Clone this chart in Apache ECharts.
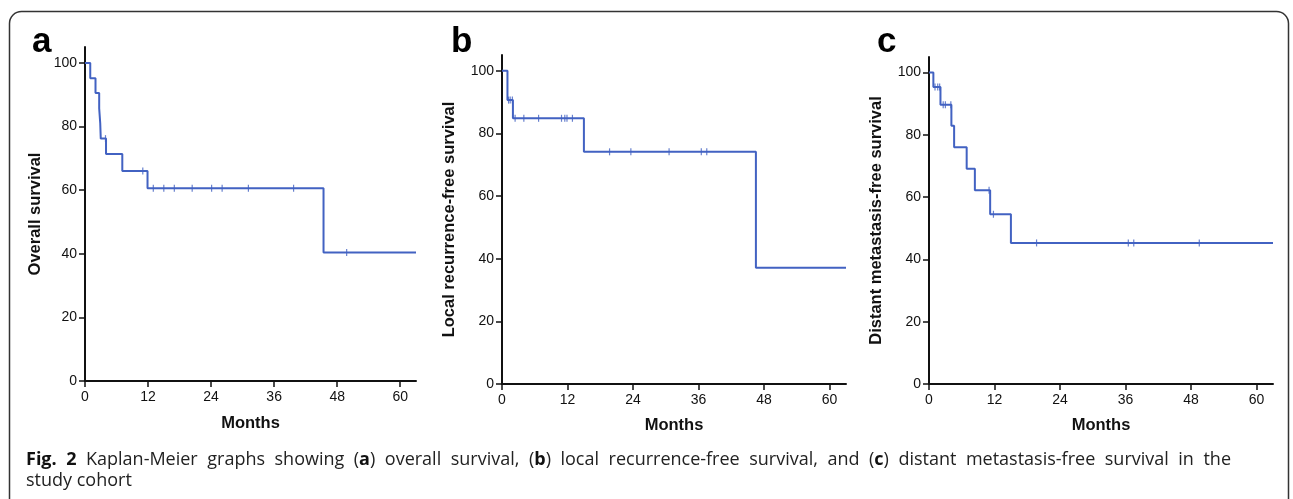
<!DOCTYPE html>
<html>
<head>
<meta charset="utf-8">
<script src="https://cdn.jsdelivr.net/npm/echarts@6/dist/echarts.min.js"></script>
<style>
  html, body { margin: 0; padding: 0; background: #fff; }
  #main { width: 1293px; height: 499px; }
</style>
</head>
<body>
<div id="main"></div>
<script>
// Kaplan-Meier steps (months, % surviving)
var osTime = [0, 1.0, 2.0, 2.7, 2.9, 3.0, 4.0, 7.1, 11.9, 45.4, 63];
var osSurv = [100, 95.2, 90.5, 85.7, 81.0, 76.2, 71.4, 66.0, 60.6, 40.4, 40.4];
var osCensor = [3.9, 11.0, 13.0, 15.0, 17.0, 20.4, 24.1, 26.1, 31.1, 39.7, 49.8];

var lrTime = [0, 1.0, 2.0, 15.0, 46.5, 63];
var lrSurv = [100, 90.6, 84.8, 74.1, 37.1, 37.1];
var lrCensor = [1.2, 1.5, 1.9, 2.4, 4.0, 6.7, 10.9, 11.5, 11.9, 12.9, 19.7, 23.6, 30.6, 36.5, 37.5];

var dmTime = [0, 0.8, 2.1, 4.1, 4.6, 6.9, 8.4, 11.2, 15.0, 63];
var dmSurv = [100, 95.4, 89.7, 82.9, 76.0, 69.1, 62.2, 54.5, 45.3, 45.3];
var dmCensor = [1.1, 1.6, 1.95, 2.6, 3.0, 4.0, 11.0, 11.8, 19.7, 36.5, 37.5, 49.5];

var xTicks = [0, 12, 24, 36, 48, 60];
var yTicks = [0, 20, 40, 60, 80, 100];

var panelLetters = ['a', 'b', 'c'];
var yNames = ['Overall survival', 'Local recurrence-free survival', 'Distant metastasis-free survival'];

// caption, line 1 is justified; [text, bold] pieces per word
var captionLine1 = [
  [['Fig.', 1]], [['2', 1]], [['Kaplan-Meier', 0]], [['graphs', 0]], [['showing', 0]],
  [['(', 0], ['a', 1], [')', 0]], [['overall', 0]], [['survival,', 0]],
  [['(', 0], ['b', 1], [')', 0]], [['local', 0]], [['recurrence-free', 0]], [['survival,', 0]], [['and', 0]],
  [['(', 0], ['c', 1], [')', 0]], [['distant', 0]], [['metastasis-free', 0]], [['survival', 0]], [['in', 0]], [['the', 0]]
];
var captionLine2 = 'study cohort';

var blue = '#4262c2';
var ink = '#111';

function pairs(t, s) {
  var out = [];
  for (var i = 0; i < t.length; i++) out.push([t[i], s[i]]);
  return out;
}
// y of the step curve at time t
function survAt(t, times, surv) {
  var v = surv[0];
  for (var i = 0; i < times.length; i++) {
    if (times[i] <= t) v = surv[i];
  }
  return v;
}
function censorPts(c, times, surv) {
  return c.map(function (t) { return [t, survAt(t, times, surv)]; });
}

var grids = [
  { left: 85, top: 47, width: 331, height: 334 },
  { left: 502, top: 55, width: 344, height: 329 },
  { left: 929, top: 57, width: 344, height: 327 }
];
var yNameGap = [41, 44, 44];
var xNameGap = [34, 33, 33];

var curves = [
  [osTime, osSurv, osCensor],
  [lrTime, lrSurv, lrCensor],
  [dmTime, dmSurv, dmCensor]
];

var xAxes = [], yAxes = [], series = [];
grids.forEach(function (g, i) {
  xAxes.push({
    gridIndex: i, type: 'value', min: 0, max: 63,
    name: 'Months', nameLocation: 'middle', nameGap: xNameGap[i],
    nameTextStyle: { fontFamily: 'Liberation Sans', fontWeight: 'bold', fontSize: 16.5, color: ink },
    axisLine: { lineStyle: { color: ink, width: 2 } },
    axisTick: { show: true, length: 6, lineStyle: { color: ink, width: 1.5 }, customValues: xTicks },
    axisLabel: { fontFamily: 'Liberation Sans', fontSize: 14, color: ink, margin: 9, customValues: xTicks },
    splitLine: { show: false }
  });
  yAxes.push({
    gridIndex: i, type: 'value', min: 0, max: 105,
    name: yNames[i], nameLocation: 'middle', nameRotate: 90, nameGap: yNameGap[i],
    nameTextStyle: { fontFamily: 'Liberation Sans', fontWeight: 'bold', fontSize: 16.5, color: ink },
    axisLine: { show: true, lineStyle: { color: ink, width: 2 } },
    axisTick: { show: true, length: 6, lineStyle: { color: ink, width: 1.5 }, customValues: yTicks },
    axisLabel: { fontFamily: 'Liberation Sans', fontSize: 14, color: ink, margin: 8, customValues: yTicks },
    splitLine: { show: false }
  });
  var c = curves[i];
  series.push({
    type: 'line', xAxisIndex: i, yAxisIndex: i, step: 'end',
    data: pairs(c[0], c[1]), showSymbol: false, animation: false,
    lineStyle: { color: blue, width: 2 }
  });
  series.push({
    type: 'scatter', xAxisIndex: i, yAxisIndex: i,
    data: censorPts(c[2], c[0], c[1]), symbol: 'rect', symbolSize: [1.2, 7],
    itemStyle: { color: blue }, animation: false
  });
});

// justified caption line: measure words, spread the gaps
var capFont = '"Open Sans"';
var capSize = 18;
var ctx = document.createElement('canvas').getContext('2d');
function pieceWidth(p) {
  ctx.font = (p[1] ? 'bold ' : '') + capSize + 'px ' + capFont;
  return ctx.measureText(p[0]).width;
}
var capLeft = 26, capRight = 1231;
var wordW = captionLine1.map(function (w) {
  return w.reduce(function (s, p) { return s + pieceWidth(p); }, 0);
});
var totalW = wordW.reduce(function (a, b) { return a + b; }, 0);
var gap = (capRight - capLeft - totalW) / (captionLine1.length - 1);

var graphics = [
  {
    type: 'rect', shape: { x: 9.5, y: 11.5, width: 1279, height: 540, r: 12 },
    style: { fill: 'none', stroke: '#333', lineWidth: 1.5 }, z: 0
  },
  { type: 'text', left: 32, top: 25, style: { text: panelLetters[0], font: 'bold 35px "Liberation Sans"', fill: '#000' } },
  { type: 'text', left: 451, top: 25, style: { text: panelLetters[1], font: 'bold 35px "Liberation Sans"', fill: '#000' } },
  { type: 'text', left: 877, top: 25, style: { text: panelLetters[2], font: 'bold 35px "Liberation Sans"', fill: '#000' } }
];

var x = capLeft;
captionLine1.forEach(function (w, i) {
  var txt = w.map(function (p) { return p[1] ? '{b|' + p[0] + '}' : '{n|' + p[0] + '}'; }).join('');
  graphics.push({
    type: 'text', x: x, y: 460,
    style: {
      text: txt, verticalAlign: 'middle',
      rich: {
        n: { fontFamily: 'Open Sans', fontSize: capSize, fill: '#222' },
        b: { fontFamily: 'Open Sans', fontWeight: 'bold', fontSize: capSize, fill: '#111' }
      }
    }
  });
  x += wordW[i] + gap;
});
graphics.push({
  type: 'text', x: capLeft, y: 481,
  style: { text: captionLine2, verticalAlign: 'middle', font: capSize + 'px "Open Sans"', fill: '#222' }
});

var chart = echarts.init(document.getElementById('main'));
chart.setOption({
  animation: false,
  grid: grids,
  xAxis: xAxes,
  yAxis: yAxes,
  series: series,
  graphic: graphics
});
</script>
</body>
</html>
